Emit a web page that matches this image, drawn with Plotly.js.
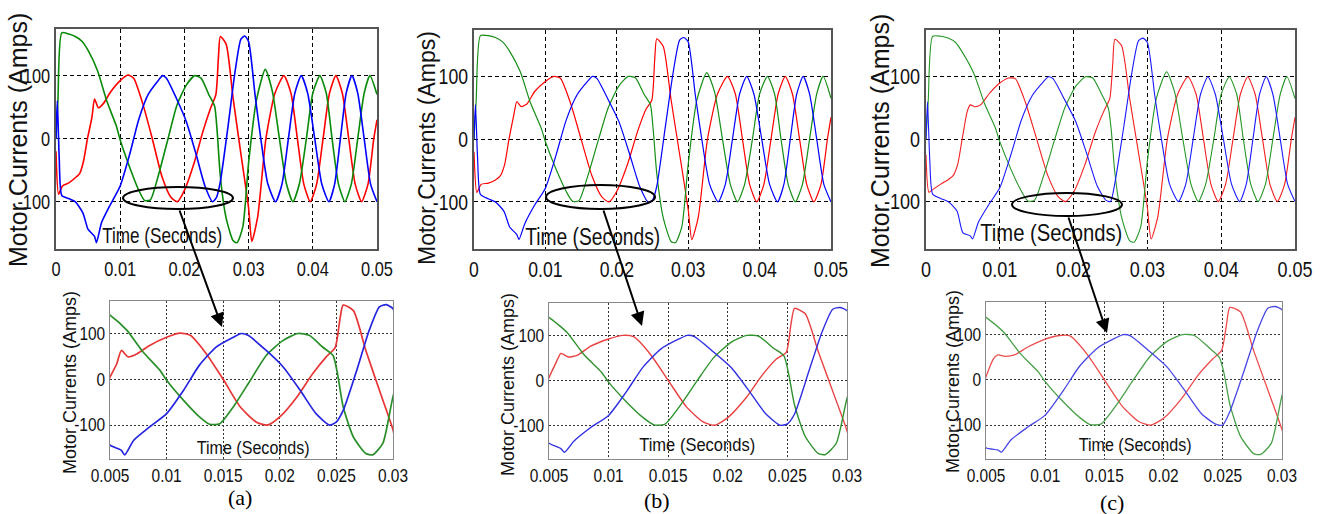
<!DOCTYPE html>
<html>
<head>
<meta charset="utf-8">
<script src="https://cdn.plot.ly/plotly-3.0.1.min.js"></script>
<style>html,body{margin:0;padding:0;background:#fff;}#chart{width:1326px;height:514px;}</style>
</head>
<body>
<div id="chart"></div>
<script>
// ---------- data (time in seconds, current in amps) ----------
const tRed = [0, 0.0004, 0.001, 0.002, 0.003, 0.0037, 0.0043, 0.0049, 0.0056, 0.006,
  0.0066, 0.0074, 0.0085, 0.01, 0.0112, 0.0121, 0.0135, 0.015, 0.0165, 0.0179,
  0.0189, 0.02, 0.0215, 0.0229, 0.0241, 0.0249, 0.0253, 0.0256, 0.0265, 0.0276,
  0.0288, 0.03, 0.0305, 0.0314, 0.0327, 0.0341, 0.0355, 0.0366, 0.0376, 0.0386,
  0.0396, 0.0406, 0.0416, 0.0426, 0.0436, 0.0446, 0.0456, 0.0466, 0.0476, 0.0486,
  0.0495, 0.05];
const redA = [-20, -88, -75, -70, -62, -55, -35, 0, 34, 63,
  49, 56, 74, 92, 101, 96, 56, 0, -60, -93,
  -100, -82, -39, 12, 49, 70, 129, 162, 150, 63,
  -24, -110, -163, -125, 0, 72, 100, 72, 0, -72,
  -100, -72, 0, 72, 100, 72, 0, -72, -100, -72,
  0, 30];
const redB = [-20, -85, -72, -70, -65, -58, -40, 0, 40, 60,
  52, 56, 76, 92, 100, 97, 58, 0, -58, -92,
  -100, -83, -40, 12, 48, 62, 125, 160, 148, 63,
  -24, -112, -160, -125, 0, 72, 100, 72, 0, -72,
  -100, -72, 0, 72, 100, 72, 0, -72, -100, -72,
  0, 35];
const redC = [-25, -85, -80, -72, -65, -58, -40, 0, 45, 55,
  52, 55, 72, 90, 98, 97, 58, 0, -58, -92,
  -100, -85, -42, 10, 45, 65, 120, 160, 150, 65,
  -22, -110, -160, -125, 0, 72, 100, 72, 0, -72,
  -100, -72, 0, 72, 100, 72, 0, -72, -100, -72,
  0, 35];

const tGreen = [0, 0.0003, 0.0009, 0.002, 0.003, 0.004, 0.005, 0.0065, 0.0079, 0.0094,
  0.01, 0.0115, 0.0129, 0.0138, 0.0147, 0.0159, 0.0174, 0.0188, 0.0203, 0.0216,
  0.0226, 0.0238, 0.0247, 0.0251, 0.0256, 0.0265, 0.0276, 0.0282, 0.0291, 0.03,
  0.0312, 0.0326, 0.0337, 0.0348, 0.0359, 0.0369, 0.0379, 0.039, 0.04, 0.0411,
  0.0421, 0.043, 0.044, 0.045, 0.046, 0.047, 0.048, 0.0489, 0.05];
const greenA = [0, 60, 168, 166, 162, 155, 140, 107, 60, 20,
  -2, -46, -82, -98, -97, -60, -2, 52, 85, 100,
  96, 70, 52, 12, -60, -126, -162, -165, -140, -38,
  60, 110, 75, 0, -72, -100, -72, 0, 72, 100,
  72, 0, -72, -100, -72, 0, 72, 100, 70];
const greenB = [0, 60, 165, 165, 162, 155, 140, 107, 58, 18,
  -4, -48, -83, -99, -98, -60, -2, 50, 85, 100,
  98, 72, 55, 15, -55, -125, -163, -165, -140, -40,
  62, 106, 75, 0, -72, -100, -72, 0, 72, 100,
  72, 0, -72, -100, -72, 0, 72, 100, 65];
const greenC = [0, 60, 165, 165, 162, 155, 138, 105, 58, 18,
  -4, -48, -83, -99, -98, -60, -2, 50, 85, 100,
  98, 72, 50, 15, -55, -125, -163, -165, -140, -35,
  65, 108, 75, 0, -72, -100, -72, 0, 72, 100,
  72, 0, -72, -100, -72, 0, 72, 100, 65];

const tBlue = [0, 0.0002, 0.0005, 0.0009, 0.002, 0.003, 0.0042, 0.005, 0.006, 0.0063,
  0.0071, 0.0085, 0.01, 0.0115, 0.0129, 0.0144, 0.0159, 0.0166, 0.0172, 0.0188,
  0.0203, 0.0218, 0.0232, 0.0244, 0.025, 0.0256, 0.0268, 0.0279, 0.0288, 0.0294,
  0.03, 0.031, 0.0319, 0.033, 0.0342, 0.0352, 0.0362, 0.0372, 0.0382, 0.0392,
  0.0403, 0.0414, 0.0425, 0.0434, 0.0443, 0.0452, 0.0461, 0.047, 0.048, 0.049,
  0.05];
const blueA = [0, 60, -30, -90, -95, -100, -118, -144, -155, -165,
  -133, -104, -75, -24, 31, 71, 92, 100, 96, 63,
  27, -24, -75, -100, -93, -68, 20, 107, 158, 163,
  154, 70, 0, -72, -100, -72, 0, 72, 100, 72,
  0, -72, -100, -72, 0, 72, 100, 72, 0, -72,
  -100];
const blueB = [0, 55, -30, -88, -95, -100, -115, -140, -152, -160,
  -135, -105, -78, -25, 30, 70, 92, 100, 97, 63,
  28, -24, -75, -100, -97, -75, 20, 107, 158, 162,
  155, 70, 0, -72, -100, -72, 0, 72, 100, 72,
  0, -72, -100, -72, 0, 72, 100, 72, 0, -72,
  -100];
const blueC = [0, 60, -30, -88, -95, -100, -115, -150, -155, -160,
  -133, -105, -78, -25, 30, 70, 92, 100, 97, 63,
  28, -24, -75, -98, -100, -70, 20, 107, 158, 162,
  155, 70, 0, -72, -100, -72, 0, 72, 100, 72,
  0, -72, -100, -72, 0, 72, 100, 72, 0, -72,
  -100];

const topTicks = [0, 0.01, 0.02, 0.03, 0.04, 0.05];
const topTickText = ['0', '0.01', '0.02', '0.03', '0.04', '0.05'];
const zoomTicks = [0.005, 0.01, 0.015, 0.02, 0.025, 0.03];
const zoomTickText = ['0.005', '0.01', '0.015', '0.02', '0.025', '0.03'];
const yTicks = [-100, 0, 100];
const yTickText = ['-100', '0', '100'];
const panelLabels = ['(a)', '(b)', '(c)'];
const yTitle = 'Motor Currents (Amps)';
const xTitle = 'Time (Seconds)';

// ---------- layout helpers ----------
const W = 1326, H = 514;
const fx = x => x / W;
const fy = y => 1 - y / H;
const SANS = '"Liberation Sans", Arial, sans-serif';
const SERIF = '"Liberation Serif", "Times New Roman", serif';

// panel boxes in pixels: [left, top, right, bottom]
const panels = [
  {box: [56, 29, 377, 249], xr: [0, 0.05], yr: [-175, 174], ticks: topTicks, ticktext: topTickText, dash: '4px,3px', grid: '#000', frame: '#555', fs: 21, squeeze: 0.78, set: 0, w: 1.6, col: ['#ff0000', '#0a8a0a', '#0000ff']},
  {box: [474, 30, 831, 249], xr: [0, 0.05], yr: [-175, 174], ticks: topTicks, ticktext: topTickText, dash: '4px,3px', grid: '#000', frame: '#555', fs: 22, squeeze: 0.8, set: 1, w: 1.2, col: ['#ff0000', '#168e16', '#0000ff']},
  {box: [926, 30, 1295, 249], xr: [0, 0.05], yr: [-176, 175], ticks: topTicks, ticktext: topTickText, dash: '4px,3px', grid: '#000', frame: '#555', fs: 22, squeeze: 0.82, set: 2, w: 1.1, col: ['#f51e1e', '#269626', '#1a1aff']},
  {box: [110, 301, 393, 459], xr: [0.005, 0.03], yr: [-174, 171], ticks: zoomTicks, ticktext: zoomTickText, dash: '2px,2px', grid: '#333', frame: '#888', fs: 18, squeeze: 0.86, set: 0, w: 1.7, col: ['#e83535', '#2a8f2a', '#2525e0']},
  {box: [549, 303, 847, 459], xr: [0.005, 0.03], yr: [-175, 172], ticks: zoomTicks, ticktext: zoomTickText, dash: '2px,2px', grid: '#333', frame: '#888', fs: 18, squeeze: 0.86, set: 1, w: 1.4, col: ['#e84040', '#2f922f', '#2f2fe0']},
  {box: [986, 302, 1282, 459], xr: [0.005, 0.03], yr: [-175, 172], ticks: zoomTicks, ticktext: zoomTickText, dash: '2px,2px', grid: '#333', frame: '#888', fs: 18, squeeze: 0.86, set: 2, w: 1.3, col: ['#ec4c4c', '#48a048', '#4848e6']}
];

const sets = [
  [redA, greenA, blueA],
  [redB, greenB, blueB],
  [redC, greenC, blueC]
];
const times = [tRed, tGreen, tBlue];

const data = [];
const layout = {
  width: W, height: H,
  margin: {l: 0, r: 0, t: 0, b: 0},
  paper_bgcolor: '#fff', plot_bgcolor: '#fff',
  showlegend: false,
  shapes: [], annotations: []
};

panels.forEach((p, i) => {
  const n = i + 1;
  const xa = 'xaxis' + (n === 1 ? '' : n), ya = 'yaxis' + (n === 1 ? '' : n);
  const xs = 'x' + (n === 1 ? '' : n), ys = 'y' + (n === 1 ? '' : n);
  const [l, t, r, b] = p.box;
  const axCommon = {
    showgrid: true, gridcolor: p.grid, griddash: p.dash, gridwidth: 1,
    zeroline: false, showline: true, mirror: true, linecolor: p.frame, linewidth: i < 3 ? 1.6 : 1.2,
    ticks: '', tickfont: {family: SANS, size: p.fs, color: '#111'}, fixedrange: true
  };
  layout[xa] = Object.assign({}, axCommon, {
    domain: [fx(l), fx(r)], range: p.xr, anchor: ys,
    tickmode: 'array', tickvals: p.ticks, ticktext: p.ticktext
  });
  layout[ya] = Object.assign({}, axCommon, {
    domain: [fy(b), fy(t)], range: p.yr, anchor: xs,
    tickmode: 'array', tickvals: yTicks, ticktext: yTickText
  });
  for (let k = 0; k < 3; k++) {
    data.push({
      type: 'scatter', mode: 'lines', x: times[k], y: sets[p.set][k],
      xaxis: xs, yaxis: ys, hoverinfo: 'skip',
      line: {color: p.col[k], width: p.w, shape: 'spline', smoothing: 0.6}
    });
  }
});

// axis titles (as annotations for exact placement)
const yTitles = [[18, 140, 25], [427, 148, 23], [880, 141, 25], [70, 383, 18], [508, 385, 18], [953, 382, 18]];
yTitles.forEach(([x, y, s]) => layout.annotations.push({
  xref: 'paper', yref: 'paper', x: fx(x), y: fy(y), xanchor: 'center', yanchor: 'middle',
  text: yTitle, textangle: -90, showarrow: false, font: {family: SANS, size: s, color: '#111'}
}));
// [centerX, centerY, fontSize, targetWidth]
const xTitles = [[162, 236, 22, 120], [592, 237, 23, 135], [1051, 233, 24, 142], [253, 448, 18, 113], [697, 445, 18, 116], [1135, 445, 18, 113]];
xTitles.forEach(([x, y, s]) => layout.annotations.push({
  xref: 'paper', yref: 'paper', x: fx(x), y: fy(y), xanchor: 'center', yanchor: 'middle',
  text: xTitle, showarrow: false, font: {family: SANS, size: s, color: '#111'}
}));
const labelPos = [[240, 497], [657, 500], [1112, 502]];
labelPos.forEach(([x, y], i) => layout.annotations.push({
  xref: 'paper', yref: 'paper', x: fx(x), y: fy(y), xanchor: 'center', yanchor: 'middle',
  text: panelLabels[i], showarrow: false, font: {family: SERIF, size: 22, color: '#000'}
}));

// ellipses marking the zoomed region
const ellipses = [[123, 187, 233, 209], [546, 185, 655, 209], [1012, 193, 1122, 216]];
ellipses.forEach(([x0, y0, x1, y1]) => layout.shapes.push({
  type: 'circle', xref: 'paper', yref: 'paper',
  x0: fx(x0), x1: fx(x1), y0: fy(y1), y1: fy(y0),
  line: {color: '#000', width: 2}, fillcolor: 'rgba(0,0,0,0)'
}));
// arrows from ellipse to zoomed plot: [headX, headY, tailX, tailY]
const arrows = [[222, 327, 179, 209], [642, 326, 603, 209], [1107, 333, 1068, 216]];
arrows.forEach(([hx, hy, tx, ty]) => layout.annotations.push({
  xref: 'paper', yref: 'paper', x: fx(hx), y: fy(hy), ax: tx - hx, ay: ty - hy,
  axref: 'pixel', ayref: 'pixel', text: '', showarrow: true,
  arrowhead: 2, arrowsize: 1.4, arrowwidth: 2, arrowcolor: '#000', standoff: 0
}));

// The source figure is horizontally squeezed; compress text glyphs to match (text stays real text).
function squeeze(el, factor, target) {
  const L = el.getComputedTextLength();
  if (!L) return;
  el.setAttribute('textLength', (target || L * factor).toFixed(1));
  el.setAttribute('lengthAdjust', 'spacingAndGlyphs');
}

Plotly.newPlot('chart', data, layout, {staticPlot: true, displayModeBar: false}).then(gd => {
  panels.forEach((p, i) => {
    const n = i + 1;
    const xs = 'x' + (n === 1 ? '' : n), ys = 'y' + (n === 1 ? '' : n);
    gd.querySelectorAll('g.' + xs + 'tick text, g.' + ys + 'tick text').forEach(el => squeeze(el, p.squeeze));
  });
  let k = 0;
  gd.querySelectorAll('text.annotation-text').forEach(el => {
    if (el.textContent === xTitle && k < xTitles.length) { squeeze(el, 1, xTitles[k][3]); k++; }
  });
});
</script>
</body>
</html>
